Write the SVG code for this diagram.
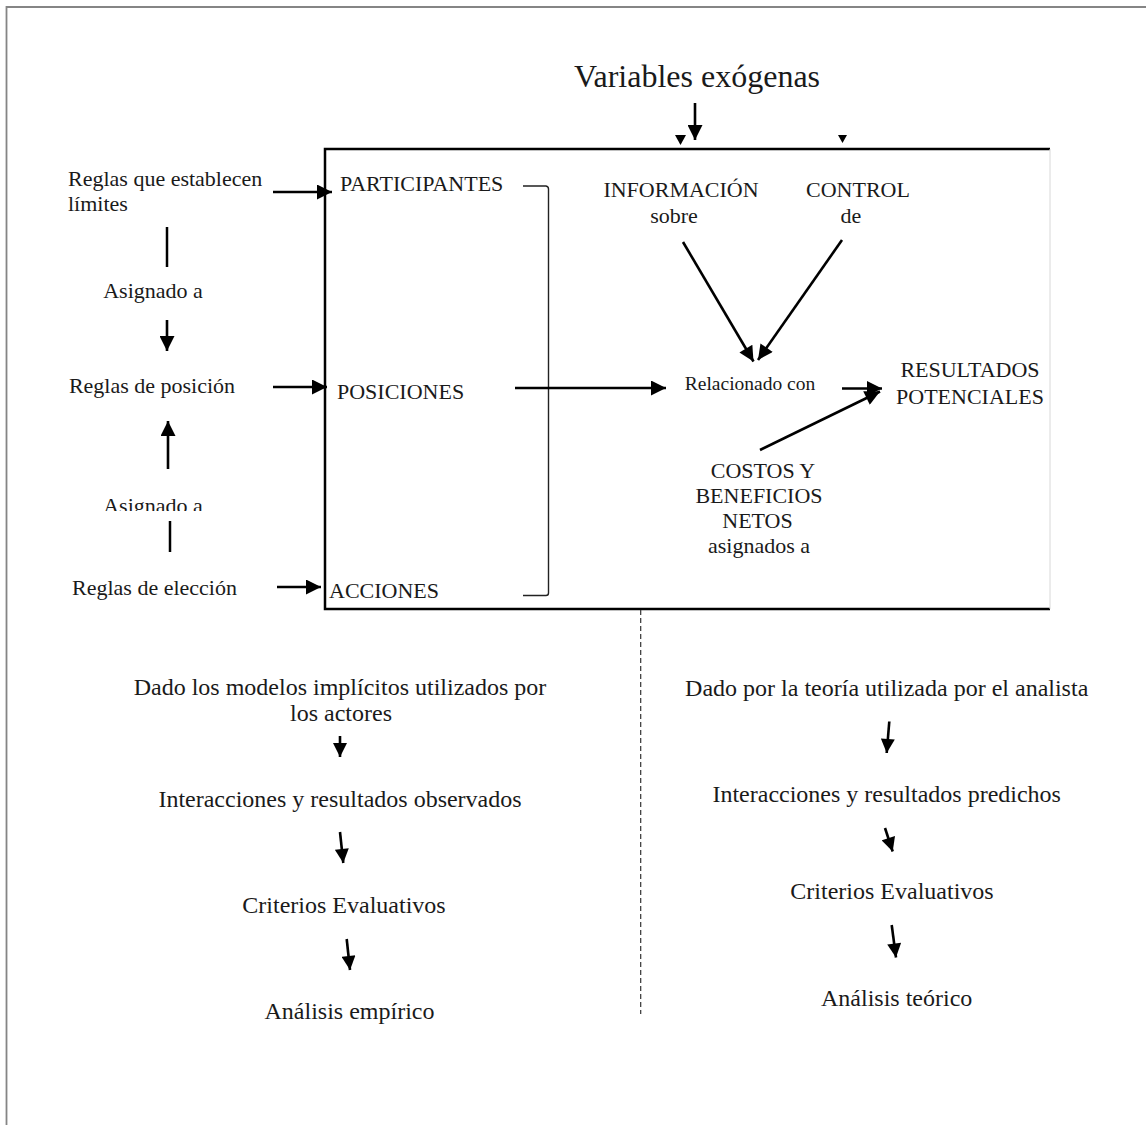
<svg xmlns="http://www.w3.org/2000/svg" width="1146" height="1125" viewBox="0 0 1146 1125">
  <style>
    text { font-family: "Liberation Serif", "Times New Roman", serif; fill: #1a1a1a; }
    .t22 { font-size: 22px; }
    .t24 { font-size: 24px; }
    .t19 { font-size: 19.5px; }
    .title { font-size: 32px; }
    .mid { text-anchor: middle; }
    .arrow { stroke: #000; stroke-width: 2.6; fill: none; marker-end: url(#head); }
    .arrow-s { stroke: #000; stroke-width: 2.6; fill: none; marker-end: url(#headS); }
    .plain { stroke: #000; stroke-width: 2.5; fill: none; }
  </style>
  <defs>
    <marker id="head" viewBox="0 0 10 10" refX="10" refY="5" markerWidth="16" markerHeight="15" markerUnits="userSpaceOnUse" orient="auto">
      <path d="M0,0 L10,5 L0,10 z" fill="#000"/>
    </marker>
    <marker id="headS" viewBox="0 0 10 10" refX="10" refY="5" markerWidth="15" markerHeight="14" markerUnits="userSpaceOnUse" orient="auto">
      <path d="M0,0 L10,5 L0,10 z" fill="#000"/>
    </marker>
    <clipPath id="cutLow">
      <rect x="0" y="0" width="1146" height="511"/>
    </clipPath>
  </defs>

  <rect x="0" y="0" width="1146" height="1125" fill="#fff"/>

  <!-- page frame -->
  <path d="M6.5,1125 V7 H1146" stroke="#858585" stroke-width="1.8" fill="none"/>

  <!-- action-arena box -->
  <g id="arena">
    <path d="M1050,149 H325 V609 H1050" stroke="#000" stroke-width="2.5" fill="none"/>
    <line x1="1050" y1="149" x2="1050" y2="609" stroke="#d8d8d8" stroke-width="1"/>
    <!-- bracket grouping participants, positions, actions -->
    <path d="M523,186 H546 Q548.5,186.5 548.5,189 V593 Q548.5,595.5 546,595.5 H523" stroke="#222" stroke-width="1.4" fill="none"/>
  </g>

  <!-- separator between empirical and theoretical branches -->
  <line x1="640.7" y1="610" x2="640.7" y2="1014" stroke="#333" stroke-width="1.2" stroke-dasharray="5,3"/>

  <g id="exogenas">
    <text class="title mid" x="697" y="87">Variables exógenas</text>
  </g>
  <polygon points="675,135 686,135 680.5,145" fill="#000"/>
  <polygon points="838,135 847,135 842.5,143" fill="#000"/>

  <!-- rules column -->
  <g id="reglas-limites">
    <text class="t22" x="68" y="186">Reglas que establecen</text>
    <text class="t22" x="68" y="211">límites</text>
  </g>
  <g id="asignado-1"><text class="t22 mid" x="153" y="298">Asignado a</text></g>
  <g id="reglas-posicion"><text class="t22 mid" x="152" y="393">Reglas de posición</text></g>
  <g id="asignado-2" clip-path="url(#cutLow)"><text class="t22 mid" x="153" y="513">Asignado a</text></g>
  <g id="reglas-eleccion"><text class="t22 mid" x="154.5" y="595">Reglas de elección</text></g>

  <!-- arena contents -->
  <g id="participantes"><text class="t22" x="340" y="191">PARTICIPANTES</text></g>
  <g id="posiciones"><text class="t22" x="337" y="399">POSICIONES</text></g>
  <g id="acciones"><text class="t22" x="329" y="598">ACCIONES</text></g>
  <g id="informacion">
    <text class="t22 mid" x="681" y="197">INFORMACIÓN</text>
    <text class="t22 mid" x="674" y="223">sobre</text>
  </g>
  <g id="control">
    <text class="t22 mid" x="858" y="197">CONTROL</text>
    <text class="t22 mid" x="851" y="223">de</text>
  </g>
  <g id="relacionado"><text class="t19 mid" x="750" y="390">Relacionado con</text></g>
  <g id="resultados">
    <text class="t22 mid" x="970" y="377">RESULTADOS</text>
    <text class="t22 mid" x="970" y="404">POTENCIALES</text>
  </g>
  <g id="costos">
    <text class="t22 mid" x="763" y="478">COSTOS Y</text>
    <text class="t22 mid" x="759" y="503">BENEFICIOS</text>
    <text class="t22 mid" x="757.5" y="528">NETOS</text>
    <text class="t22 mid" x="759" y="553">asignados a</text>
  </g>

  <!-- empirical branch -->
  <g id="modelos">
    <text class="t24 mid" x="340" y="695">Dado los modelos implícitos utilizados por</text>
    <text class="t24 mid" x="341" y="721">los actores</text>
  </g>
  <g id="observados"><text class="t24 mid" x="340" y="807">Interacciones y resultados observados</text></g>
  <g id="criterios-emp"><text class="t24 mid" x="344" y="913">Criterios Evaluativos</text></g>
  <g id="empirico"><text class="t24 mid" x="349.5" y="1019">Análisis empírico</text></g>

  <!-- theoretical branch -->
  <g id="teoria"><text class="t24 mid" x="886.7" y="696">Dado por la teoría utilizada por el analista</text></g>
  <g id="predichos"><text class="t24 mid" x="886.7" y="802">Interacciones y resultados predichos</text></g>
  <g id="criterios-teo"><text class="t24 mid" x="892" y="899">Criterios Evaluativos</text></g>
  <g id="teorico"><text class="t24 mid" x="896.7" y="1006">Análisis teórico</text></g>

  <g id="connectors">
    <line class="arrow" x1="695" y1="103" x2="695" y2="140"/>
    <line class="arrow" x1="273" y1="192" x2="332" y2="192"/>
    <line class="plain" x1="167" y1="227" x2="167" y2="267"/>
    <line class="arrow" x1="167" y1="320" x2="167" y2="351"/>
    <line class="arrow" x1="273" y1="387" x2="327" y2="387"/>
    <line class="arrow" x1="168" y1="469" x2="168" y2="421"/>
    <line class="plain" x1="170" y1="521" x2="170" y2="552"/>
    <line class="arrow" x1="277" y1="587" x2="321" y2="587"/>
    <line class="arrow" x1="515" y1="388" x2="666" y2="388"/>
    <line class="arrow" x1="683" y1="242" x2="753.5" y2="361.5"/>
    <line class="arrow" x1="842" y1="240" x2="758" y2="360"/>
    <line class="arrow" x1="842" y1="388.5" x2="882" y2="388.5"/>
    <line class="arrow" x1="760" y1="450" x2="880" y2="391.5"/>
    <line class="arrow-s" x1="340" y1="736" x2="340" y2="757"/>
    <line class="arrow-s" x1="340" y1="832" x2="343.3" y2="863"/>
    <line class="arrow-s" x1="346.7" y1="939" x2="350" y2="970"/>
    <line class="arrow-s" x1="889.3" y1="721.5" x2="886.7" y2="753"/>
    <line class="arrow-s" x1="885" y1="828" x2="892.7" y2="851.5"/>
    <line class="arrow-s" x1="891.7" y1="925" x2="896" y2="957.5"/>
  </g>
</svg>
